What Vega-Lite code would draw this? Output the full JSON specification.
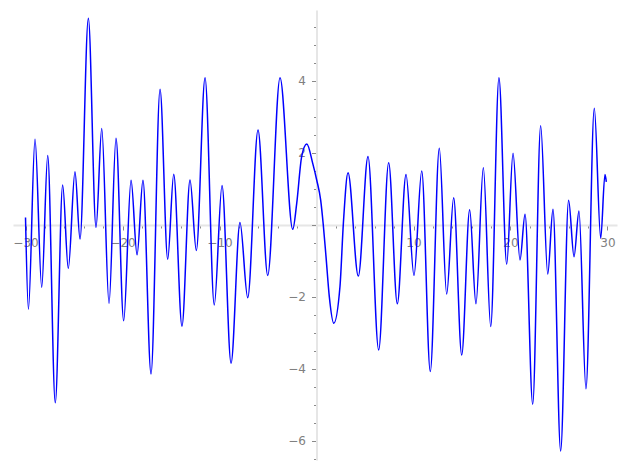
{
  "$schema": "https://vega.github.io/schema/vega-lite/v6.json",
  "width": 604,
  "height": 450,
  "autosize": {"type": "none"},
  "padding": {"left": 13, "top": 10, "right": 10, "bottom": 10},
  "background": "white",
  "config": {"view": {"stroke": null}},
  "data": {"values": [
    {"x": -30.0, "y": 0.21},
    {"x": -29.7, "y": -2.34},
    {"x": -29.02, "y": 2.38},
    {"x": -28.33, "y": -1.73},
    {"x": -27.71, "y": 1.93},
    {"x": -26.93, "y": -4.94},
    {"x": -26.17, "y": 1.11},
    {"x": -25.59, "y": -1.21},
    {"x": -24.9, "y": 1.48},
    {"x": -24.38, "y": -0.39},
    {"x": -23.52, "y": 5.74},
    {"x": -22.73, "y": -0.07},
    {"x": -22.14, "y": 2.68},
    {"x": -21.39, "y": -2.18},
    {"x": -20.67, "y": 2.41},
    {"x": -19.88, "y": -2.66},
    {"x": -19.12, "y": 1.24},
    {"x": -18.5, "y": -0.83},
    {"x": -17.89, "y": 1.24},
    {"x": -17.06, "y": -4.14},
    {"x": -16.13, "y": 3.77},
    {"x": -15.34, "y": -0.95},
    {"x": -14.72, "y": 1.41},
    {"x": -13.87, "y": -2.81},
    {"x": -13.04, "y": 1.25},
    {"x": -12.39, "y": -0.71},
    {"x": -11.49, "y": 4.09},
    {"x": -10.54, "y": -2.22},
    {"x": -9.74, "y": 1.1},
    {"x": -8.81, "y": -3.84},
    {"x": -7.89, "y": 0.07},
    {"x": -7.09, "y": -2.02},
    {"x": -6.03, "y": 2.64},
    {"x": -5.03, "y": -1.4},
    {"x": -3.76, "y": 4.09},
    {"x": -2.45, "y": -0.12},
    {"x": -2.04, "y": 0.6},
    {"x": -1.53, "y": 1.9},
    {"x": -1.0, "y": 2.25},
    {"x": -0.39, "y": 1.71},
    {"x": 0.02, "y": 1.25},
    {"x": 0.43, "y": 0.69},
    {"x": 0.7, "y": 0.0},
    {"x": 0.98, "y": -0.88},
    {"x": 1.32, "y": -1.99},
    {"x": 1.78, "y": -2.73},
    {"x": 2.42, "y": -1.71},
    {"x": 2.77, "y": 0.05},
    {"x": 3.25, "y": 1.45},
    {"x": 4.31, "y": -1.42},
    {"x": 5.31, "y": 1.9},
    {"x": 6.41, "y": -3.47},
    {"x": 7.44, "y": 1.73},
    {"x": 8.33, "y": -2.19},
    {"x": 9.23, "y": 1.4},
    {"x": 10.05, "y": -1.4},
    {"x": 10.85, "y": 1.5},
    {"x": 11.73, "y": -4.07},
    {"x": 12.66, "y": 2.13},
    {"x": 13.42, "y": -1.92},
    {"x": 14.14, "y": 0.76},
    {"x": 14.97, "y": -3.61},
    {"x": 15.79, "y": 0.42},
    {"x": 16.44, "y": -2.19},
    {"x": 17.2, "y": 1.59},
    {"x": 17.96, "y": -2.82},
    {"x": 18.81, "y": 4.09},
    {"x": 19.61, "y": -1.09},
    {"x": 20.26, "y": 1.99},
    {"x": 20.98, "y": -0.97},
    {"x": 21.5, "y": 0.3},
    {"x": 22.29, "y": -4.98},
    {"x": 23.11, "y": 2.76},
    {"x": 23.84, "y": -1.36},
    {"x": 24.38, "y": 0.44},
    {"x": 25.17, "y": -6.28},
    {"x": 25.99, "y": 0.69},
    {"x": 26.55, "y": -0.88},
    {"x": 27.06, "y": 0.39},
    {"x": 27.78, "y": -4.55},
    {"x": 28.64, "y": 3.24},
    {"x": 29.3, "y": -0.37},
    {"x": 29.74, "y": 1.4},
    {"x": 29.88, "y": 1.2}
  ]},
  "mark": {"type": "line", "interpolate": "monotone", "color": "#0000ff", "strokeWidth": 1.5, "clip": true},
  "encoding": {
    "x": {
      "field": "x", "type": "quantitative",
      "scale": {"domain": [-31.29, 30.98], "nice": false, "zero": false},
      "axis": {
        "title": null, "grid": false, "offset": -235,
        "values": [-30,-28,-26,-24,-22,-20,-18,-16,-14,-12,-10,-8,-6,-4,-2,0,2,4,6,8,10,12,14,16,18,20,22,24,26,28,30],
        "labelExpr": "(datum.value % 10 === 0 && datum.value !== 0) ? format(datum.value, 'd') : ''",
        "tickSize": {"condition": {"test": "datum.value % 10 === 0", "value": 5}, "value": 3},
        "tickColor": "#8a8a8a", "tickWidth": 1,
        "domainColor": "#e6e6e6", "domainWidth": 2,
        "labelColor": "#808080", "labelFont": "DejaVu Sans", "labelFontSize": 12,
        "labelPadding": 7, "labelFlush": false, "labelOverlap": false
      }
    },
    "y": {
      "field": "y", "type": "quantitative",
      "scale": {"domain": [-6.528, 5.972], "nice": false, "zero": false},
      "axis": {
        "title": null, "grid": false, "offset": -303.5,
        "values": [-6.5,-6,-5.5,-5,-4.5,-4,-3.5,-3,-2.5,-2,-1.5,-1,-0.5,0,0.5,1,1.5,2,2.5,3,3.5,4,4.5,5,5.5],
        "labelExpr": "(datum.value % 2 === 0 && datum.value !== 0) ? format(datum.value, 'd') : ''",
        "tickSize": {"condition": {"test": "datum.value % 2 === 0", "value": 5}, "value": 3},
        "tickColor": "#8a8a8a", "tickWidth": 1,
        "domainColor": "#e6e6e6", "domainWidth": 2,
        "labelColor": "#808080", "labelFont": "DejaVu Sans", "labelFontSize": 12,
        "labelPadding": 6, "labelFlush": false, "labelOverlap": false
      }
    }
  }
}
